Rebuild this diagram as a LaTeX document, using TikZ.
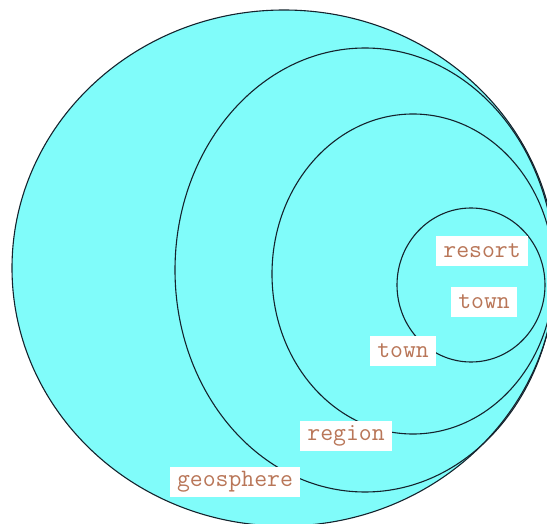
\documentclass[tikz,border=0pt]{standalone}
\usepackage{tikz}
\usetikzlibrary{positioning}
\definecolor{seacyan}{RGB}{128,252,250}
\definecolor{labelbrown}{RGB}{185,118,88}
\definecolor{ringline}{RGB}{20,35,45}

\begin{document}
\begin{tikzpicture}[x=1pt,y=-1pt,
  ring/.style={draw=ringline,line width=1.1pt},
  tag/.style={fill=white,text=labelbrown,inner xsep=7pt,inner ysep=0pt,
    minimum height=30pt,font=\ttfamily\fontsize{25}{30}\selectfont}]
  \clip (0,0) rectangle (547,524);
  % nested regions, all touching at the right
  \filldraw[ring,fill=seacyan] (284,268) ellipse [x radius=272,y radius=258];
  \draw[ring] (365,270) ellipse [x radius=190,y radius=222];
  \draw[ring] (413,274) ellipse [x radius=141,y radius=160];
  \draw[ring] (471,285) ellipse [x radius=74,y radius=77];
  % labels
  \node[tag] (resort) at (482,251) {resort};
  \node[tag] (town) at (484,302) {town};
  \node[tag] (townouter) at (403,351) {town};
  \node[tag] (region) at (346,436) {region};
  \node[tag] (geosphere) at (235,482) {geosphere};
\end{tikzpicture}
\end{document}
